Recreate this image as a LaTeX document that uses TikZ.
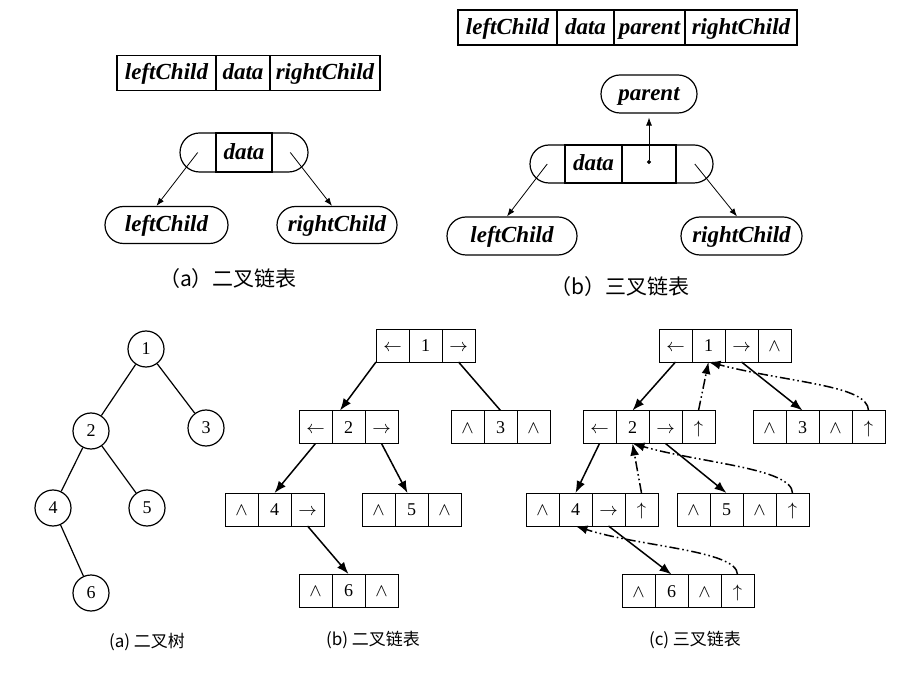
\documentclass[tikz,border=0pt]{standalone}
\usepackage{fontspec}
\setmainfont{Liberation Serif}
\newfontfamily\cjk{Noto Sans CJK SC}
\usetikzlibrary{positioning,calc,shapes.misc,arrows.meta}

\newcommand\cellrow[4]{%
  \foreach \val [count=\i] in {#4}
    \node[cell] (#1-\i) at ({#2+(\i-1)*33},#3) {\val};}

\begin{document}
\begin{tikzpicture}[x=0.5pt,y=0.5pt,
    field/.style={draw,semithick,minimum height=17.5pt,inner sep=0pt,outer sep=0pt,
      text height=9pt,text depth=2pt,font=\fontsize{11.5}{13}\selectfont\bfseries\itshape},
    pill/.style={draw,semithick,rounded rectangle,minimum height=18.5pt,inner sep=0pt,
      text height=9pt,text depth=2pt,font=\fontsize{11.5}{13}\selectfont\bfseries\itshape},
    ptr/.style={-{Latex[length=4pt,width=3pt]},thin},
    cell/.style={draw,minimum size=16.5pt,inner sep=0pt,outer sep=0pt,
      text height=6.5pt,text depth=0.5pt,font=\fontsize{9}{10}\selectfont},
    vertex/.style={draw,circle,semithick,minimum size=18pt,inner sep=0pt,font=\fontsize{9}{10}\selectfont},
    link/.style={-{Latex[length=6pt,width=4.5pt]},line width=0.75pt},
    uplink/.style={link,dash pattern=on 5pt off 1.5pt on 0.8pt off 1.5pt on 0.8pt off 1.5pt},
    topcap/.style={font=\fontsize{10.5}{12}\selectfont\cjk},
    subcap/.style={font=\fontsize{8.5}{10}\selectfont\cjk}]
  \useasboundingbox (0,0) rectangle (920,675);

  % (a) binary node
  \node[field,minimum width=49.5pt] (aL) at (166.5,602) {leftChild};
  \node[field,minimum width=27pt,right=0pt of aL] (aD) {data};
  \node[field,minimum width=55pt,right=0pt of aD] (aR) {rightChild};
  \node[pill,minimum width=64pt,minimum height=19.5pt] (acap) at (244,522.5) {};
  \node[field,minimum width=28pt,minimum height=19.5pt] (adata) at (acap) {data};
  \node[pill,minimum width=61.5pt] (alc) at (166.5,450) {leftChild};
  \node[pill,minimum width=60pt] (arc) at (337,450) {rightChild};
  \draw[ptr] ($(acap.west)!0.5!(adata.west)$) -- ([xshift=-5pt]alc.north);
  \draw[ptr] ($(acap.east)!0.5!(adata.east)$) -- ([xshift=-2.5pt]arc.north);
  \node[topcap] (acap-t) at (228,396) {（a）二叉链表};

  % (b) triple node
  \node[field,minimum width=49.5pt] (bL) at (507.5,647.5) {leftChild};
  \node[field,minimum width=28.5pt,right=0pt of bL] (bD) {data};
  \node[field,minimum width=35.5pt,right=0pt of bD] (bP) {parent};
  \node[field,minimum width=56pt,right=0pt of bP] (bR) {rightChild};
  \node[pill,minimum width=48pt,minimum height=19pt] (bpar) at (649,581) {parent};
  \node[pill,minimum width=91.5pt,minimum height=19pt] (bcap) at (621.5,511) {};
  \node[field,minimum width=28.5pt,minimum height=19pt] (bdata) at (593.5,511) {data};
  \node[field,minimum width=27pt,minimum height=19pt,right=0pt of bdata] (bptr) {};
  \node[pill,minimum width=65pt,minimum height=19pt] (blc) at (512,439) {leftChild};
  \node[pill,minimum width=60.5pt,minimum height=19pt] (brc) at (741.5,439) {rightChild};
  \draw[{Circle[length=2pt]}-{Latex[length=4pt,width=3pt]},thin,shorten >=2pt] (bptr.center) -- (bpar.south);
  \draw[ptr] ($(bcap.west)!0.5!(bdata.west)$) -- ([xshift=-2.5pt]blc.north);
  \draw[ptr] ($(bcap.east)!0.5!(bptr.east)$) -- ([xshift=-2.25pt]brc.north);
  \node[topcap] (bcap-t) at (620,388) {（b）三叉链表};

  % (a) tree
  \node[vertex] (v1) at (146,326) {1};
  \node[vertex] (v2) at (91,244) {2};
  \node[vertex] (v3) at (206,247) {3};
  \node[vertex] (v4) at (53,167) {4};
  \node[vertex] (v5) at (147,167) {5};
  \node[vertex] (v6) at (91,82) {6};
  \draw[semithick] (v1) -- (v2);
  \draw[semithick] (v1) -- (v3);
  \draw[semithick] (v2) -- (v4);
  \draw[semithick] (v2) -- (v5);
  \draw[semithick] (v4) -- (v6);
  \node[subcap] (tcap) at (147,33) {(a) 二叉树};

  % (b) binary list
  \cellrow{b1}{392.5}{329.5}{$\leftarrow$,1,$\rightarrow$}
  \cellrow{b2}{315.5}{248}{$\leftarrow$,2,$\rightarrow$}
  \cellrow{b3}{467.5}{248}{$\wedge$,3,$\wedge$}
  \cellrow{b4}{241.5}{165.5}{$\wedge$,4,$\rightarrow$}
  \cellrow{b5}{378.5}{165.5}{$\wedge$,5,$\wedge$}
  \cellrow{b6}{315.5}{84.5}{$\wedge$,6,$\wedge$}
  \draw[link] (b1-1.south west) -- ([xshift=4pt]b2-2.north west);
  \draw[line width=0.75pt] (b1-3.south) -- (b3-2.north);
  \draw[link] (b2-1.south) -- (b4-2.north);
  \draw[link] (b2-3.south) -- ([xshift=-2pt]b5-2.north);
  \draw[link] (b4-3.south) -- (b6-2.north);
  \node[subcap] (bcap-b) at (373,35) {(b) 二叉链表};

  % (c) triple list
  \cellrow{c1}{675.5}{329.5}{$\leftarrow$,1,$\rightarrow$,$\wedge$}
  \cellrow{c2}{599.5}{248}{$\leftarrow$,2,$\rightarrow$,$\uparrow$}
  \cellrow{c3}{769.5}{248}{$\wedge$,3,$\wedge$,$\uparrow$}
  \cellrow{c4}{542.5}{165.5}{$\wedge$,4,$\rightarrow$,$\uparrow$}
  \cellrow{c5}{693.5}{165.5}{$\wedge$,5,$\wedge$,$\uparrow$}
  \cellrow{c6}{638.5}{84}{$\wedge$,6,$\wedge$,$\uparrow$}
  \draw[link] (c1-1.south) -- (c2-2.north);
  \draw[link] (c1-3.south) -- (c3-2.north);
  \draw[link] (c2-1.south) -- (c4-2.north);
  \draw[link] (c2-3.south) -- (c5-2.north);
  \draw[link] (c4-3.south) -- (c6-2.north);
  \draw[uplink] (c2-4.north) -- (c1-2.south);
  \draw[uplink] (c3-4.north) .. controls (868,290) and (790,292) .. (c1-2.south);
  \draw[uplink] (c4-4.north) -- (c2-2.south);
  \draw[uplink] (c5-4.north) .. controls (792,207) and (700,212) .. (c2-2.south);
  \draw[uplink] (c6-4.north) .. controls (737,125) and (640,128) .. (c4-2.south);
  \node[subcap] (ccap-b) at (695,35) {(c) 三叉链表};
\end{tikzpicture}
\end{document}
